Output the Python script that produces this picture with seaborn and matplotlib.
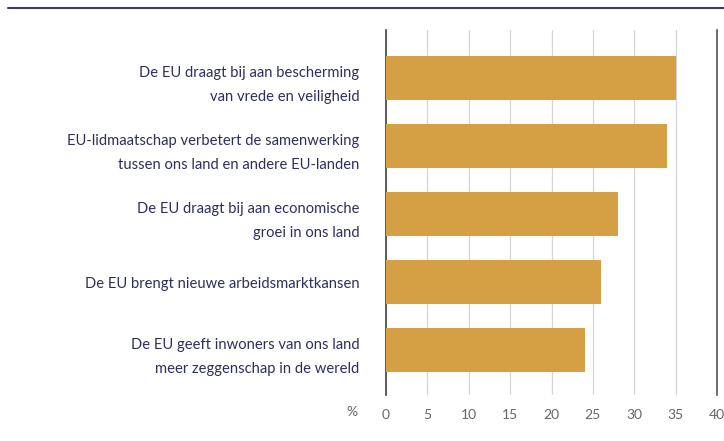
import matplotlib
matplotlib.use("Agg")
import matplotlib.pyplot as plt
import pandas as pd
import seaborn as sns

# Statements (two-line labels) and share in %
statements = [
    "De EU draagt bij aan bescherming\nvan vrede en veiligheid",
    "EU-lidmaatschap verbetert de samenwerking\ntussen ons land en andere EU-landen",
    "De EU draagt bij aan economische\ngroei in ons land",
    "De EU brengt nieuwe arbeidsmarktkansen",
    "De EU geeft inwoners van ons land\nmeer zeggenschap in de wereld",
]
values = [35, 34, 28, 26, 24]
x_ticks = [0, 5, 10, 15, 20, 25, 30, 35, 40]

df = pd.DataFrame({"statement": statements, "value": values})

BAR = "#D4A043"
NAVY = "#2E2E5C"

sns.set_theme(style="white")
plt.rcParams["font.family"] = ["Lato", "DejaVu Sans"]

fig = plt.figure(figsize=(7.24, 4.41), dpi=100)
ax = fig.add_axes([386 / 724, 1 - 395 / 441, 331 / 724, 365 / 441])

sns.barplot(data=df, x="value", y="statement", color=BAR, width=0.65,
            saturation=1, linewidth=0, ax=ax, zorder=3)

ax.set_xlim(0, 40)
ax.set_ylim(4.66, -0.706)
ax.set_xticks(x_ticks)
ax.set_xticklabels([str(t) for t in x_ticks], color="#666666", fontsize=10)
ax.tick_params(axis="x", length=0, pad=10)
ax.tick_params(axis="y", length=0, pad=19)
for lab in ax.get_yticklabels():
    lab.set_color(NAVY)
    lab.set_fontsize(10.6)
    lab.set_linespacing(1.95)
    lab.set_horizontalalignment("right")

ax.set_xlabel("")
ax.set_ylabel("")
ax.xaxis.grid(True, color="#d6d6d6", linewidth=0.9, zorder=0)
ax.yaxis.grid(False)

for side in ["top", "bottom"]:
    ax.spines[side].set_visible(False)
ax.spines["left"].set_color("#444444")
ax.spines["left"].set_linewidth(1.2)
ax.spines["right"].set_color("#555555")
ax.spines["right"].set_linewidth(1.2)

ax.text(-4.1, -0.03, "%", transform=ax.get_xaxis_transform(), color="#666666",
        fontsize=10, ha="center", va="top")

# top rule
fig.add_artist(plt.Line2D([8 / 724, 1.0], [1 - 8 / 441, 1 - 8 / 441],
                          color="#3A3A6A", linewidth=1.5))

fig.savefig("out.png", dpi=100)
